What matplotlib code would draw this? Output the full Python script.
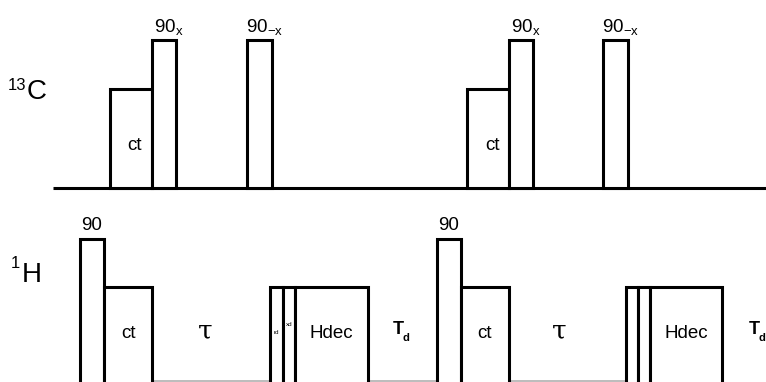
import matplotlib.pyplot as plt

# pulse sequence diagram: 13C channel (top) and 1H channel (bottom)
# positions in pixel-like time units, heights relative to each baseline
c13_start = [110, 152, 247, 467, 509, 603]
c13_width = [42, 24, 25, 42, 24, 25]
c13_height = [99, 148, 148, 99, 148, 148]
c13_label = ['ct', '', '', 'ct', '', '']
c13_top_label = ['', '90$_{\\mathregular{x}}$', '90$_{\\mathregular{-x}}$',
                 '', '90$_{\\mathregular{x}}$', '90$_{\\mathregular{-x}}$']

h1_start = [80, 104, 270, 283, 295, 437, 461, 626, 638, 650]
h1_width = [24, 48, 13, 12, 73, 24, 48, 12, 12, 72]
h1_height = [145, 97, 97, 97, 97, 145, 97, 97, 97, 97]
h1_label = ['', 'ct', '', '', 'Hdec', '', 'ct', '', '', 'Hdec']
h1_top_label = ['90', '', '', '', '', '90', '', '', '', '']

tau_x = [205, 559]
td_x = [398, 754]

C13_BASE = 194
H1_BASE = -2

fig = plt.figure(figsize=(7.66, 3.82), dpi=100)
ax = fig.add_axes([0, 0, 1, 1])
ax.set_xlim(0, 766)
ax.set_ylim(0, 382)
ax.axis('off')

lw = 2.2
font = 'Liberation Sans'
fs = 13.5

# baselines
ax.plot([53, 766], [C13_BASE, C13_BASE], color='black', lw=lw, solid_capstyle='butt')
ax.plot([130, 660], [0.8, 0.8], color='#b0b0b0', lw=1.2)

ax.bar(c13_start, c13_height, width=c13_width, bottom=C13_BASE, align='edge',
       facecolor='white', edgecolor='black', linewidth=lw, zorder=3)
ax.bar(h1_start, h1_height, width=h1_width, bottom=H1_BASE, align='edge',
       facecolor='white', edgecolor='black', linewidth=lw, zorder=3)

for s, w, h, lab, top in zip(c13_start, c13_width, c13_height, c13_label, c13_top_label):
    if lab:
        ax.text(s + w / 2 + 4, C13_BASE + 42, lab, ha='center', va='center',
                fontsize=fs, family=font, zorder=4)
    if top:
        ax.text(s + w / 2 + 5, C13_BASE + h + 12, top, ha='center', va='center',
                fontsize=fs, family=font, zorder=4)

for s, w, h, lab, top in zip(h1_start, h1_width, h1_height, h1_label, h1_top_label):
    if lab:
        ax.text(s + w / 2, H1_BASE + 50, lab, ha='center', va='center',
                fontsize=fs, family=font, zorder=4)
    if top:
        ax.text(s + w / 2, H1_BASE + h + 14, top, ha='center', va='center',
                fontsize=fs, family=font, zorder=4)

# tiny labels inside the narrow 1H pulses
ax.text(276, 49, 'rd', ha='center', va='center', fontsize=4.5, family=font, zorder=4)
ax.text(289, 57, 'xd', ha='center', va='center', fontsize=4.5, family=font, zorder=4)

for x in tau_x:
    ax.text(x, 51, '\u03c4', ha='center', va='center', fontsize=19,
            family='DejaVu Serif', zorder=4)
for x in td_x:
    ax.text(x, 52, 'T', ha='center', va='center', fontsize=13,
            family=font, fontweight='bold', zorder=4)
    ax.text(x + 8, 44, 'd', ha='center', va='center', fontsize=8,
            family=font, fontweight='bold', zorder=4)

# channel names
ax.text(8, 297, '13', ha='left', va='center', fontsize=12, family=font)
ax.text(27, 290, 'C', ha='left', va='center', fontsize=20, family=font)
ax.text(11, 118, '1', ha='left', va='center', fontsize=12, family=font)
ax.text(22, 107, 'H', ha='left', va='center', fontsize=20, family=font)

fig.savefig('out.png', dpi=100)
